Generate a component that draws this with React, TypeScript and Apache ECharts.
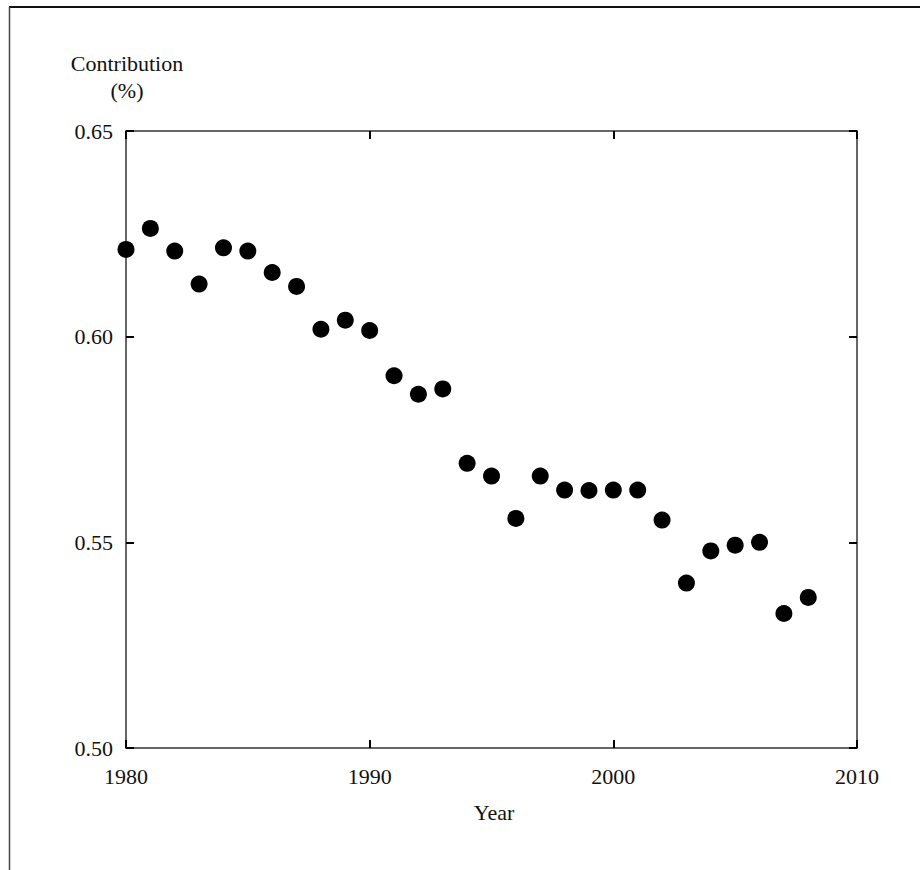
import React, { useEffect, useRef } from "react";
import * as echarts from "echarts";

const years = [
  1980, 1981, 1982, 1983, 1984, 1985, 1986, 1987, 1988, 1989,
  1990, 1991, 1992, 1993, 1994, 1995, 1996, 1997, 1998, 1999,
  2000, 2001, 2002, 2003, 2004, 2005, 2006, 2007, 2008,
];
const contribution = [
  0.6212, 0.6263, 0.6208, 0.6128, 0.6216, 0.6208, 0.6156, 0.6122, 0.6018, 0.604,
  0.6015, 0.5905, 0.586, 0.5873, 0.5692, 0.5661, 0.5558, 0.5661, 0.5627, 0.5626,
  0.5627, 0.5627, 0.5554, 0.5401, 0.5479, 0.5493, 0.55, 0.5327, 0.5366,
];
const xTicks = { min: 1980, max: 2010, interval: 10 };
const yTicks = { min: 0.5, max: 0.65, interval: 0.05 };
const yTitle = ["Contribution", "(%)"];
const xTitle = "Year";

const FONT = "'Liberation Serif', 'DejaVu Serif', serif";
const FS = 22;

export default function App() {
  const ref = useRef<HTMLDivElement>(null);
  useEffect(() => {
    document.body.style.margin = "0";
    if (!ref.current) return;
    const chart = echarts.init(ref.current, null, { renderer: "svg" });
    const axisLine = { show: true, lineStyle: { color: "#333", width: 1.5 } };
    const tick = { show: true, inside: true, length: 8, lineStyle: { color: "#000", width: 2 } };
    chart.setOption({
      animation: false,
      backgroundColor: "#fff",
      grid: { left: 126, top: 131, width: 731, height: 617, containLabel: false },
      xAxis: [
        {
          type: "value",
          min: xTicks.min,
          max: xTicks.max,
          interval: xTicks.interval,
          position: "bottom",
          axisLine,
          axisTick: tick,
          splitLine: { show: false },
          axisLabel: {
            margin: 17,
            color: "#111",
            fontFamily: FONT,
            fontSize: FS,
            formatter: (v: number) => String(v),
          },
        },
        {
          type: "value",
          min: xTicks.min,
          max: xTicks.max,
          interval: xTicks.interval,
          position: "top",
          axisLine,
          axisTick: tick,
          splitLine: { show: false },
          axisLabel: { show: false },
        },
      ],
      yAxis: [
        {
          type: "value",
          min: yTicks.min,
          max: yTicks.max,
          interval: yTicks.interval,
          position: "left",
          axisLine,
          axisTick: tick,
          splitLine: { show: false },
          axisLabel: {
            margin: 13,
            color: "#111",
            fontFamily: FONT,
            fontSize: FS,
            formatter: (v: number) => v.toFixed(2),
          },
        },
        {
          type: "value",
          min: yTicks.min,
          max: yTicks.max,
          interval: yTicks.interval,
          position: "right",
          axisLine,
          axisTick: tick,
          splitLine: { show: false },
          axisLabel: { show: false },
        },
      ],
      series: [
        {
          type: "scatter",
          xAxisIndex: 0,
          yAxisIndex: 0,
          symbol: "circle",
          symbolSize: 17,
          itemStyle: { color: "#000", opacity: 1 },
          data: years.map((y, i) => [y, contribution[i]]),
        },
      ],
      graphic: [
        {
          type: "line",
          shape: { x1: 9, y1: 7, x2: 920, y2: 7 },
          style: { stroke: "#111", lineWidth: 2 },
        },
        {
          type: "line",
          shape: { x1: 9.5, y1: 7, x2: 9.5, y2: 870 },
          style: { stroke: "#444", lineWidth: 1.5 },
        },
        {
          type: "text",
          x: 127,
          y: 63,
          style: {
            text: yTitle[0],
            fontFamily: FONT,
            fontSize: FS,
            fill: "#111",
            textAlign: "center",
            textVerticalAlign: "middle",
          },
        },
        {
          type: "text",
          x: 127,
          y: 90,
          style: {
            text: yTitle[1],
            fontFamily: FONT,
            fontSize: FS,
            fill: "#111",
            textAlign: "center",
            textVerticalAlign: "middle",
          },
        },
        {
          type: "text",
          x: 494,
          y: 812,
          style: {
            text: xTitle,
            fontFamily: FONT,
            fontSize: FS,
            fill: "#111",
            textAlign: "center",
            textVerticalAlign: "middle",
          },
        },
      ],
    });
    return () => chart.dispose();
  }, []);
  return <div ref={ref} style={{ width: 920, height: 870 }} />;
}
